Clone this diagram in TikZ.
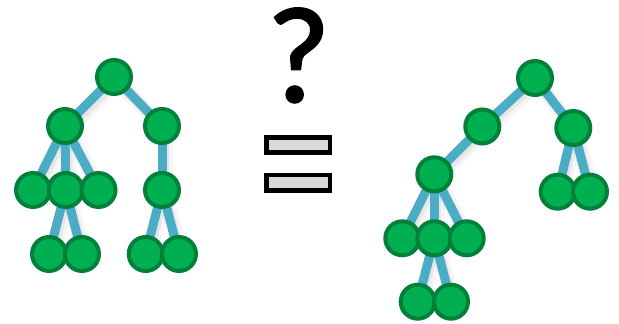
\documentclass[tikz,border=0pt]{standalone}
\usepackage{fontspec}
\newfontfamily\qfont[FakeBold=1.6]{Carlito}
\usetikzlibrary{backgrounds}
\definecolor{ndfill}{HTML}{00B050}
\definecolor{ndborder}{HTML}{00803A}
\definecolor{edgecol}{HTML}{4BACC6}
\definecolor{barfill}{HTML}{D9D9D9}
\begin{document}
\begin{tikzpicture}[x=1pt,y=-1pt,
  nd/.style={circle,draw=ndborder,fill=ndfill,line width=4pt,minimum size=34pt,inner sep=0pt},
  edge/.style={draw=edgecol,line width=9pt},
  shadowA/.style={draw=black,opacity=0.04,line width=15pt},
  shadowB/.style={draw=black,opacity=0.06,line width=10pt},
  eqbar/.style={rectangle,draw=black,fill=barfill,line width=4.7pt,minimum width=63.3pt,minimum height=15.4pt,inner sep=0pt}
]
\useasboundingbox (0,0) rectangle (619,324);
% left tree
\node[nd] (a)  at (114,77) {};
\node[nd] (b)  at (65,126) {};
\node[nd] (c)  at (162,126) {};
\node[nd] (d)  at (33,190) {};
\node[nd] (e)  at (65.7,190) {};
\node[nd] (f)  at (98.5,190) {};
\node[nd] (g)  at (162,190) {};
\node[nd] (h)  at (49,254) {};
\node[nd] (i)  at (82,254) {};
\node[nd] (j)  at (145.7,254) {};
\node[nd] (k)  at (179,254) {};
% right tree
\node[nd] (A)  at (535,78) {};
\node[nd] (B)  at (482.3,126.5) {};
\node[nd] (C)  at (573.3,128) {};
\node[nd] (D)  at (434.3,174.3) {};
\node[nd] (E)  at (557.7,191.7) {};
\node[nd] (F)  at (590,191.7) {};
\node[nd] (G)  at (402.3,238.3) {};
\node[nd] (H)  at (434.3,238.3) {};
\node[nd] (I)  at (466.7,238.3) {};
\node[nd] (J)  at (417.7,301.7) {};
\node[nd] (K)  at (451,301.7) {};
\begin{pgfonlayer}{background}
\foreach \p/\q in {a/b,a/c,b/d,b/e,b/f,c/g,e/h,e/i,g/j,g/k,A/B,A/C,B/D,C/E,C/F,D/G,D/H,D/I,H/J,H/K}{
  \draw[shadowA] ([shift={(3,4)}]\p.center) -- ([shift={(3,4)}]\q.center);
  \draw[shadowB] ([shift={(2,3)}]\p.center) -- ([shift={(2,3)}]\q.center);
}
\foreach \p/\q in {a/b,a/c,b/d,b/e,b/f,c/g,e/h,e/i,g/j,g/k,A/B,A/C,B/D,C/E,C/F,D/G,D/H,D/I,H/J,H/K}{
  \draw[edge] (\p.center) -- (\q.center);
}
\end{pgfonlayer}
% question and equals
\node[font=\qfont\fontsize{137}{137}\selectfont,anchor=base,inner sep=0pt] (q) at (298.5,101.7) {?};
\node[eqbar] (eqtop) at (298.3,145) {};
\node[eqbar] (eqbot) at (298.3,182.7) {};
\end{tikzpicture}
\end{document}
